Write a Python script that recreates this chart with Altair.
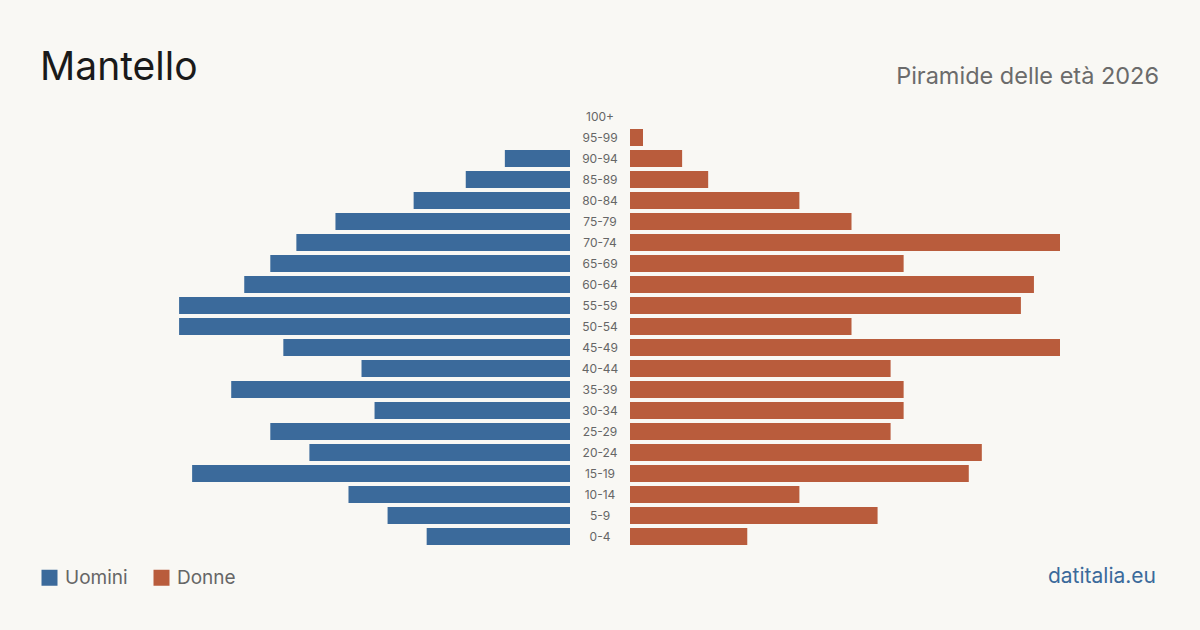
import altair as alt
import pandas as pd

ages = ["100+", "95-99", "90-94", "85-89", "80-84", "75-79", "70-74", "65-69",
        "60-64", "55-59", "50-54", "45-49", "40-44", "35-39", "30-34", "25-29",
        "20-24", "15-19", "10-14", "5-9", "0-4"]
uomini = [0, 0, 5, 8, 12, 18, 21, 23, 25, 30, 30, 22, 16, 26, 15, 23, 20, 29, 17, 14, 11]
donne = [0, 1, 4, 6, 13, 17, 33, 21, 31, 30, 17, 33, 20, 21, 21, 20, 27, 26, 13, 19, 9]

title = "Mantello"
subtitle = "Piramide delle età 2026"
source = "datitalia.eu"

BLUE = "#3b6a9b"
ORANGE = "#b95c3c"
BG = "#f9f8f4"
FONT = "Inter"

df_m = pd.DataFrame({"age": ages, "value": uomini, "sesso": "Uomini"})
df_f = pd.DataFrame({"age": ages, "value": donne, "sesso": "Donne"})
df_lab = pd.DataFrame({"age": ages})

yenc = alt.Y("age:N", sort=ages,
             scale=alt.Scale(domain=ages, range=[106, 547], paddingInner=0.19, paddingOuter=0.095),
             axis=None)
color = alt.Color("sesso:N",
                  scale=alt.Scale(domain=["Uomini", "Donne"], range=[BLUE, ORANGE]),
                  legend=alt.Legend(orient="none", legendX=40, legendY=568, direction="horizontal",
                                    title=None, symbolType="square", symbolSize=256,
                                    symbolStrokeWidth=0, symbolOpacity=1,
                                    labelFontSize=19, labelColor="#666666", labelFont=FONT,
                                    labelOffset=6, columnPadding=24))

male = alt.Chart(df_m).mark_bar().encode(
    x=alt.X("value:Q", scale=alt.Scale(domain=[0, 33], range=[570, 140]), axis=None),
    y=yenc, color=color)
female = alt.Chart(df_f).mark_bar().encode(
    x=alt.X("value:Q", scale=alt.Scale(domain=[0, 33], range=[630, 1060]), axis=None),
    y=yenc, color=color)

labels = alt.Chart(df_lab).mark_text(align="center", baseline="middle", fontSize=12,
                                     color="#666666", font=FONT).encode(
    x=alt.value(600), y=yenc, text="age:N")

t1 = alt.Chart(pd.DataFrame({"t": [title]})).mark_text(
    align="left", baseline="alphabetic", fontSize=39, color="#1a1a1a", font=FONT).encode(
    x=alt.value(40), y=alt.value(80), text="t:N")
t2 = alt.Chart(pd.DataFrame({"t": [subtitle]})).mark_text(
    align="right", baseline="alphabetic", fontSize=23.5, color="#6b6b6b", font=FONT).encode(
    x=alt.value(1159), y=alt.value(84), text="t:N")
t3 = alt.Chart(pd.DataFrame({"t": [source]})).mark_text(
    align="right", baseline="alphabetic", fontSize=21, color=BLUE, font=FONT).encode(
    x=alt.value(1156), y=alt.value(583), text="t:N")

chart = alt.layer(male, female, labels, t1, t2, t3).resolve_scale(x="independent").properties(
    width=1200, height=630, background=BG, padding=0,
    autosize=alt.AutoSizeParams(type="none"),
).configure_view(stroke=None)

chart.save("out.html", embed_options={"renderer": "svg", "actions": False})
